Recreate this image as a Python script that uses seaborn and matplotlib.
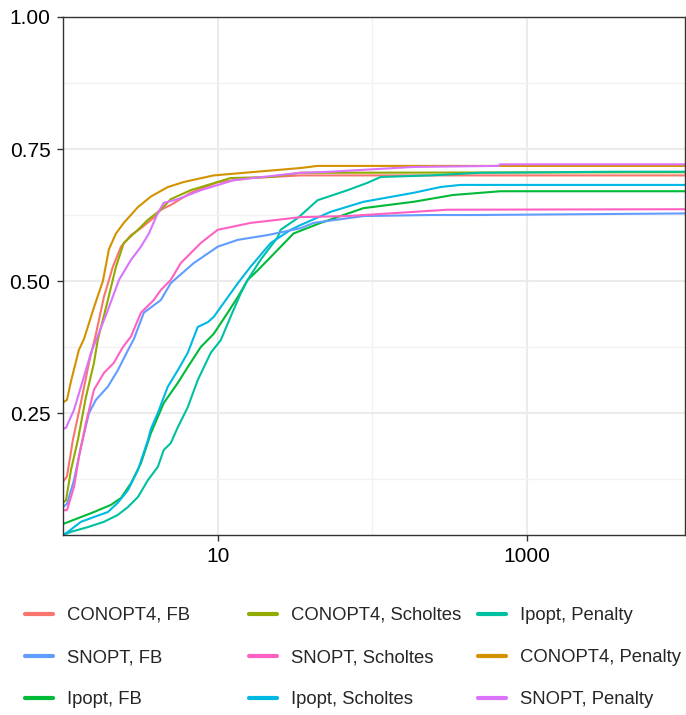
import numpy as np
import pandas as pd
import seaborn as sns
import matplotlib
matplotlib.use("Agg")
import matplotlib.pyplot as plt
from matplotlib.lines import Line2D
from matplotlib.ticker import FixedLocator, FuncFormatter, NullFormatter

# Performance profiles: ratio tau (log scale) vs. fraction of problems solved
conopt4_fb_x = [1, 1.061, 1.16, 1.306, 1.472, 1.633, 1.839, 2.10, 2.37, 2.75, 3.19, 3.86, 4.29, 4.97, 6.69, 10, 16.3, 34.3, 10470]
conopt4_fb_y = [0.12, 0.13, 0.20, 0.27, 0.345, 0.40, 0.47, 0.527, 0.565, 0.587, 0.60, 0.62, 0.635, 0.644, 0.667, 0.687, 0.695, 0.70, 0.70]

conopt4_sch_x = [1, 1.046, 1.126, 1.25, 1.406, 1.585, 1.682, 1.95, 2.20, 2.47, 3.05, 3.54, 4.29, 4.97, 6.69, 12.1, 22.0, 34.3, 10470]
conopt4_sch_y = [0.08, 0.085, 0.142, 0.20, 0.28, 0.345, 0.39, 0.464, 0.527, 0.572, 0.597, 0.616, 0.635, 0.655, 0.672, 0.695, 0.697, 0.705, 0.706]

conopt4_pen_x = [1, 1.061, 1.126, 1.268, 1.366, 1.585, 1.811, 1.98, 2.20, 2.47, 3.05, 3.70, 4.76, 6.03, 9.42, 16.3, 34.3, 44.2, 10470]
conopt4_pen_y = [0.27, 0.275, 0.31, 0.37, 0.39, 0.45, 0.50, 0.56, 0.59, 0.61, 0.64, 0.66, 0.678, 0.6875, 0.70, 0.706, 0.714, 0.718, 0.718]

snopt_pen_x = [1, 1.046, 1.178, 1.346, 1.516, 1.682, 1.95, 2.30, 2.75, 3.19, 3.59, 4.10, 4.48, 5.52, 7.77, 12.7, 34.3, 53.6, 184, 650, 670, 10470]
snopt_pen_y = [0.22, 0.222, 0.256, 0.3125, 0.364, 0.397, 0.445, 0.502, 0.54, 0.565, 0.59, 0.629, 0.648, 0.655, 0.672, 0.691, 0.705, 0.707, 0.716, 0.718, 0.721, 0.721]

snopt_sch_x = [1, 1.061, 1.178, 1.268, 1.406, 1.585, 1.839, 2.13, 2.44, 2.75, 3.19, 3.86, 4.29, 4.97, 5.77, 7.77, 10, 16.3, 34.3, 69, 305, 10470]
snopt_sch_y = [0.066, 0.066, 0.11, 0.167, 0.231, 0.294, 0.326, 0.345, 0.375, 0.395, 0.44, 0.464, 0.483, 0.502, 0.534, 0.572, 0.597, 0.61, 0.621, 0.623, 0.635, 0.636]

snopt_fb_x = [1, 1.061, 1.178, 1.306, 1.472, 1.633, 1.95, 2.26, 2.63, 2.87, 3.33, 4.29, 4.97, 7.0, 10, 13.5, 21.0, 34.3, 41.6, 87.5, 237, 476, 10470]
snopt_fb_y = [0.072, 0.078, 0.123, 0.186, 0.25, 0.275, 0.30, 0.331, 0.369, 0.39, 0.44, 0.464, 0.496, 0.534, 0.565, 0.578, 0.587, 0.60, 0.61, 0.623, 0.625, 0.625, 0.628]

ipopt_fb_x = [1, 1.046, 1.306, 1.585, 2.04, 2.37, 2.75, 3.19, 3.70, 4.48, 5.52, 6.40, 7.77, 9.42, 11.6, 13.5, 15.6, 18.1, 24.4, 30.9, 46.2, 59.4, 87.5, 184, 333, 498, 670, 10470]
ipopt_fb_y = [0.04, 0.042, 0.053, 0.0625, 0.076, 0.089, 0.117, 0.155, 0.212, 0.269, 0.307, 0.337, 0.375, 0.40, 0.44, 0.47, 0.502, 0.52, 0.559, 0.59, 0.61, 0.621, 0.638, 0.65, 0.663, 0.667, 0.67, 0.67]

ipopt_sch_x = [1, 1.077, 1.306, 1.585, 1.95, 2.26, 2.63, 3.05, 3.54, 3.70, 4.10, 4.48, 4.76, 5.52, 6.40, 7.43, 8.62, 9.42, 10.9, 13.5, 16.3, 22.0, 29.6, 34.3, 53.6, 87.5, 184, 275, 370, 10470]
ipopt_sch_y = [0.019, 0.025, 0.044, 0.053, 0.0625, 0.08, 0.104, 0.142, 0.199, 0.22, 0.25, 0.28, 0.30, 0.331, 0.364, 0.413, 0.422, 0.432, 0.458, 0.496, 0.527, 0.572, 0.597, 0.606, 0.631, 0.65, 0.667, 0.678, 0.682, 0.682]

ipopt_pen_x = [1, 1.126, 1.45, 1.839, 2.26, 2.63, 3.05, 3.54, 4.10, 4.48, 4.97, 5.52, 6.40, 7.43, 9.01, 10.46, 12.1, 14.1, 15.6, 18.9, 24.4, 25.5, 32.8, 44.2, 69, 92.9, 113, 237, 498, 3980, 10470]
ipopt_pen_y = [0.019, 0.025, 0.034, 0.044, 0.057, 0.072, 0.091, 0.123, 0.148, 0.18, 0.193, 0.223, 0.261, 0.3125, 0.364, 0.388, 0.432, 0.477, 0.502, 0.54, 0.583, 0.597, 0.619, 0.653, 0.672, 0.686, 0.697, 0.70, 0.705, 0.707, 0.707]

series = {
    "CONOPT4, FB": (conopt4_fb_x, conopt4_fb_y),
    "CONOPT4, Penalty": (conopt4_pen_x, conopt4_pen_y),
    "CONOPT4, Scholtes": (conopt4_sch_x, conopt4_sch_y),
    "Ipopt, FB": (ipopt_fb_x, ipopt_fb_y),
    "Ipopt, Penalty": (ipopt_pen_x, ipopt_pen_y),
    "Ipopt, Scholtes": (ipopt_sch_x, ipopt_sch_y),
    "SNOPT, FB": (snopt_fb_x, snopt_fb_y),
    "SNOPT, Penalty": (snopt_pen_x, snopt_pen_y),
    "SNOPT, Scholtes": (snopt_sch_x, snopt_sch_y),
}
colors = {
    "CONOPT4, FB": "#F8766D",
    "CONOPT4, Penalty": "#D39200",
    "CONOPT4, Scholtes": "#93AA00",
    "Ipopt, FB": "#00BA38",
    "Ipopt, Penalty": "#00C19F",
    "Ipopt, Scholtes": "#00B9E3",
    "SNOPT, FB": "#619CFF",
    "SNOPT, Penalty": "#DB72FB",
    "SNOPT, Scholtes": "#FF61C3",
}
legend_columns = [
    ["CONOPT4, FB", "SNOPT, FB", "Ipopt, FB"],
    ["CONOPT4, Scholtes", "SNOPT, Scholtes", "Ipopt, Scholtes"],
    ["Ipopt, Penalty", "CONOPT4, Penalty", "SNOPT, Penalty"],
]

rows = []
for name, (xs, ys) in series.items():
    for i, (xv, yv) in enumerate(zip(xs, ys)):
        rows.append({"solver": name, "tau": xv, "frac": yv, "order": i})
df = pd.DataFrame(rows)

sns.set_theme(style="white")
plt.rcParams["font.family"] = ["Liberation Sans", "DejaVu Sans"]

fig = plt.figure(figsize=(6.86, 7.15), dpi=100)
ax = fig.add_axes([63 / 686, 1 - 535 / 715, (685 - 63) / 686, (535 - 17) / 715])
ax.set_facecolor("white")

ax.set_xscale("log")
ax.set_xlim(1, 10470)
ax.set_ylim(0.019, 1.0)

# grid lines under the curves
ax.set_axisbelow(True)
ax.xaxis.set_major_locator(FixedLocator([10, 1000]))
ax.xaxis.set_minor_locator(FixedLocator([100]))
ax.yaxis.set_major_locator(FixedLocator([0.25, 0.5, 0.75, 1.0]))
ax.yaxis.set_minor_locator(FixedLocator([0.125, 0.375, 0.625, 0.875]))
ax.xaxis.set_major_formatter(FuncFormatter(lambda v, p: f"{v:g}"))
ax.xaxis.set_minor_formatter(NullFormatter())
ax.yaxis.set_major_formatter(FuncFormatter(lambda v, p: f"{v:.2f}"))
ax.grid(True, which="major", color="#EBEBEB", linewidth=1.5)
ax.grid(True, which="minor", color="#F2F2F2", linewidth=1.0)

sns.lineplot(data=df, x="tau", y="frac", hue="solver", palette=colors,
             sort=False, estimator=None, units="solver", legend=False,
             linewidth=1.5, ax=ax)

ax.set_xlabel("")
ax.set_ylabel("")
for side in ["left", "bottom", "top", "right"]:
    ax.spines[side].set_visible(True)
    ax.spines[side].set_color("#333333")
    ax.spines[side].set_linewidth(1.0)
ax.tick_params(axis="both", which="major", length=4, width=1.0, color="#333333",
               labelsize=15, labelcolor="black", pad=5, direction="out",
               bottom=True, left=True)
ax.tick_params(axis="both", which="minor", length=0)

# legend laid out as three separate columns below the panel
col_x = [25 / 686, 249 / 686, 478 / 686]
for cx, names in zip(col_x, legend_columns):
    handles = [Line2D([0], [0], color=colors[n], linewidth=3) for n in names]
    fig.legend(handles, names, loc="upper left", bbox_to_anchor=(cx, 1 - 607 / 715),
               frameon=False, fontsize=13.3, handlelength=1.5, handletextpad=0.8,
               labelspacing=1.36, borderpad=0, borderaxespad=0)

fig.savefig("out.png", dpi=100)
